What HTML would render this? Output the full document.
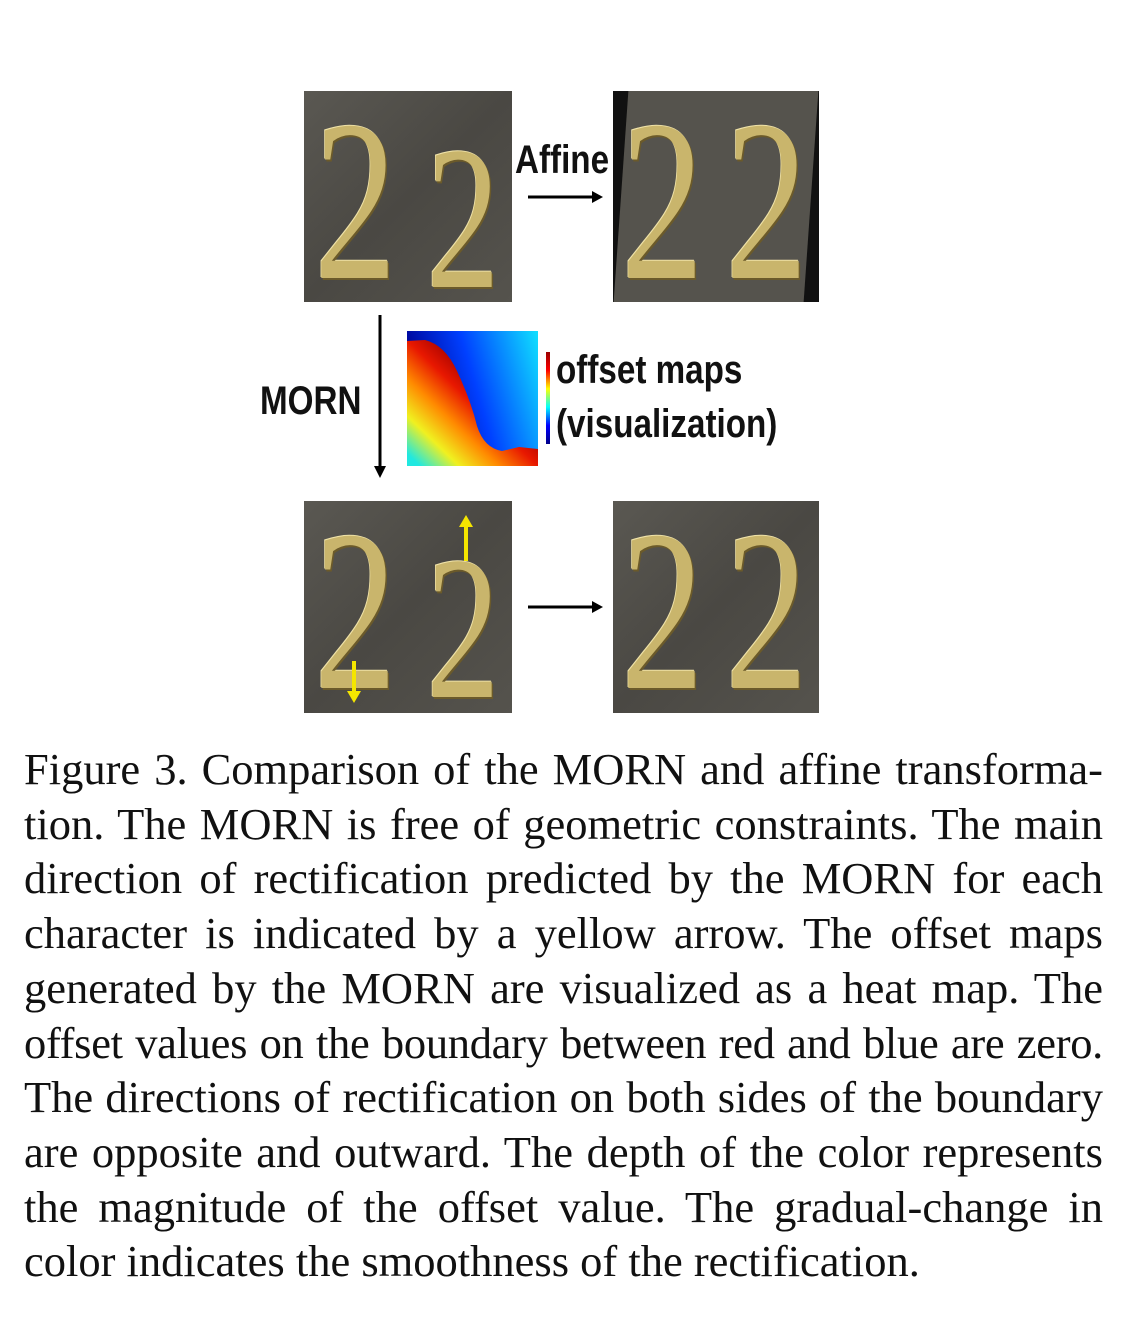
<!DOCTYPE html>
<html><head><meta charset="utf-8"><style>
body{margin:0;width:1142px;height:1340px;background:#fff;position:relative;overflow:hidden}
.abs{position:absolute}
.img{position:absolute;background:linear-gradient(135deg,#5a5852,#4a4843 50%,#55534d);overflow:hidden}
.two{position:absolute;font-family:"Liberation Serif",serif;font-size:230px;line-height:1;color:#c9b56c;transform-origin:0 0;transform:scaleX(0.72);text-shadow:2px 2px 0 #6b5a2a,-1px -1px 0 #efe2a8}
.lbl{position:absolute;font-family:"Liberation Sans",sans-serif;font-weight:bold;color:#111;transform-origin:0 0;transform:scaleX(0.83);white-space:nowrap}
.cap{position:absolute;left:24px;width:1079px;font-family:"Liberation Serif",serif;font-size:44.5px;line-height:54.7px;top:742px;color:#111}
.cap div{text-align:justify;text-align-last:justify;white-space:nowrap}
.cap div.last{text-align-last:left}
</style></head><body>
<div class="img" style="left:304px;top:91px;width:208px;height:211px">
 <div class="two" style="left:10px;top:-5px">2</div><div class="two" style="left:122px;top:25px;font-size:205px">2</div></div>
<div class="img" style="left:613px;top:91px;width:206px;height:211px;background:#111">
 <div style="position:absolute;left:8px;top:0;width:190px;height:211px;background:#55534d;transform:skewX(-4deg)"></div>
 <div class="two" style="left:8px;top:-5px">2</div><div class="two" style="left:112px;top:-5px">2</div></div>
<div class="img" style="left:304px;top:501px;width:208px;height:212px">
 <div class="two" style="left:10px;top:-5px">2</div><div class="two" style="left:122px;top:25px;font-size:205px">2</div>
 <div class="abs" style="left:48px;top:160px;width:4px;height:32px;background:#f5e600"></div>
 <div class="abs" style="left:43px;top:190px;border-left:7px solid transparent;border-right:7px solid transparent;border-top:12px solid #f5e600"></div>
 <div class="abs" style="left:160px;top:26px;width:4px;height:34px;background:#f5e600"></div>
 <div class="abs" style="left:155px;top:14px;border-left:7px solid transparent;border-right:7px solid transparent;border-bottom:12px solid #f5e600"></div></div>
<div class="img" style="left:613px;top:501px;width:206px;height:212px">
 <div class="two" style="left:8px;top:-5px">2</div><div class="two" style="left:112px;top:-5px">2</div></div>

<div class="lbl" style="left:515px;top:138px;font-size:40px">Affine</div>
<svg class="abs" style="left:0;top:0" width="1142" height="740">
 <line x1="528" y1="197" x2="594" y2="197" stroke="#000" stroke-width="3"/><polygon points="603,197 592,191 592,203" fill="#000"/>
 <line x1="528" y1="607" x2="594" y2="607" stroke="#000" stroke-width="3"/><polygon points="603,607 592,601 592,613" fill="#000"/>
 <line x1="380" y1="315" x2="380" y2="468" stroke="#000" stroke-width="3"/><polygon points="380,478 374,466 386,466" fill="#000"/>
</svg>
<div class="lbl" style="left:260px;top:379px;font-size:40px">MORN</div>
<svg class="abs" style="left:407px;top:331px" width="131" height="135">
 <defs>
  <linearGradient id="b" x1="0" y1="0.3" x2="1" y2="0"><stop offset="0" stop-color="#00008f"/><stop offset="0.45" stop-color="#0040ff"/><stop offset="1" stop-color="#10e0ff"/></linearGradient>
  <linearGradient id="w" x1="0.1" y1="1" x2="0.7" y2="0.4"><stop offset="0" stop-color="#20e8e0"/><stop offset="0.25" stop-color="#f0f020"/><stop offset="0.5" stop-color="#ff8a00"/><stop offset="0.75" stop-color="#e81800"/><stop offset="1" stop-color="#a00000"/></linearGradient>
 </defs>
 <rect width="131" height="135" fill="url(#b)"/>
 <path d="M0,10 L18,9 Q38,14 50,40 Q64,70 70,95 Q77,117 95,120 L112,116 L131,118 L131,135 L0,135 Z" fill="url(#w)"/>
</svg>
<div class="abs" style="left:546px;top:352px;width:4px;height:92px;background:linear-gradient(#900,#f00,#ff0,#0ff,#00f,#008)"></div>
<div class="lbl" style="left:556px;top:348px;font-size:40px">offset maps</div>
<div class="lbl" style="left:556px;top:402px;font-size:40px">(visualization)</div>

<div class="cap">
<div>Figure 3. Comparison of the MORN and affine transforma-</div>
<div>tion. The MORN is free of geometric constraints. The main</div>
<div>direction of rectification predicted by the MORN for each</div>
<div>character is indicated by a yellow arrow. The offset maps</div>
<div>generated by the MORN are visualized as a heat map. The</div>
<div style="letter-spacing:-0.3px">offset values on the boundary between red and blue are zero.</div>
<div>The directions of rectification on both sides of the boundary</div>
<div>are opposite and outward. The depth of the color represents</div>
<div>the magnitude of the offset value. The gradual-change in</div>
<div class="last">color indicates the smoothness of the rectification.</div>
</div>
</body></html>
